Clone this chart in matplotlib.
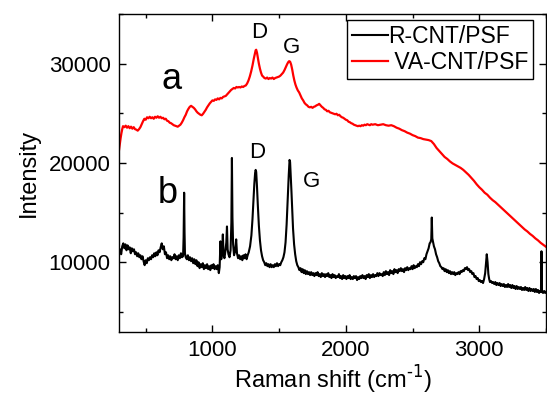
import matplotlib
matplotlib.use("Agg")
import matplotlib.pyplot as plt
import matplotlib.ticker as ticker

plt.rcParams['font.family'] = ['Liberation Sans', 'DejaVu Sans']

# Raman spectrum (b): R-CNT/PSF
shift_b = [300, 308, 316, 324, 332, 340, 348, 356, 364, 372, 380, 388, 396, 404, 412, 420,
           428, 436, 444, 452, 460, 468, 476, 484, 492, 500, 508, 516, 524, 532, 540, 548,
           556, 564, 572, 580, 588, 596, 604, 612, 620, 628, 636, 644, 652, 660, 668, 676,
           684, 692, 700, 708, 716, 724, 732, 740, 748, 756, 764, 772, 780, 784, 788, 791,
           794, 800, 808, 816, 824, 832, 840, 848, 856, 864, 872, 880, 888, 896, 904, 912,
           920, 928, 936, 944, 952, 960, 968, 976, 984, 992, 1000, 1008, 1016, 1024, 1032, 1040,
           1048, 1054, 1060, 1066, 1072, 1078, 1084, 1090, 1098, 1104, 1109, 1114, 1120, 1128, 1136, 1142,
           1146, 1150, 1155, 1162, 1170, 1178, 1184, 1192, 1200, 1208, 1216, 1224, 1232, 1240, 1248, 1256,
           1264, 1272, 1282, 1292, 1300, 1308, 1314, 1320, 1324, 1328, 1334, 1340, 1348, 1356, 1364, 1372,
           1380, 1388, 1396, 1404, 1412, 1420, 1428, 1436, 1444, 1452, 1460, 1468, 1476, 1484, 1492, 1500,
           1508, 1516, 1524, 1532, 1540, 1548, 1556, 1564, 1572, 1578, 1582, 1586, 1592, 1598, 1604, 1612,
           1620, 1628, 1636, 1644, 1652, 1660, 1668, 1676, 1684, 1692, 1700, 1708, 1716, 1724, 1732, 1740,
           1748, 1756, 1764, 1772, 1780, 1788, 1796, 1804, 1812, 1820, 1828, 1836, 1844, 1852, 1860, 1868,
           1876, 1884, 1892, 1900, 1908, 1916, 1924, 1932, 1940, 1948, 1956, 1964, 1972, 1980, 1988, 1996,
           2004, 2012, 2020, 2028, 2036, 2044, 2052, 2060, 2068, 2076, 2084, 2092, 2100, 2108, 2116, 2124,
           2132, 2140, 2148, 2156, 2164, 2172, 2180, 2188, 2196, 2204, 2212, 2220, 2228, 2236, 2244, 2252,
           2260, 2268, 2276, 2284, 2292, 2300, 2308, 2316, 2324, 2332, 2340, 2348, 2356, 2364, 2372, 2380,
           2388, 2396, 2404, 2412, 2420, 2428, 2436, 2444, 2452, 2460, 2468, 2476, 2484, 2492, 2500, 2508,
           2516, 2524, 2532, 2540, 2548, 2556, 2564, 2572, 2580, 2588, 2596, 2604, 2612, 2620, 2628, 2634,
           2640, 2644, 2648, 2654, 2660, 2668, 2676, 2684, 2692, 2700, 2708, 2716, 2724, 2732, 2740, 2748,
           2756, 2764, 2772, 2780, 2788, 2796, 2804, 2812, 2820, 2828, 2836, 2844, 2852, 2860, 2868, 2876,
           2884, 2892, 2900, 2908, 2916, 2924, 2932, 2940, 2948, 2956, 2964, 2972, 2980, 2988, 2996, 3004,
           3012, 3020, 3028, 3036, 3044, 3050, 3056, 3062, 3068, 3074, 3080, 3088, 3096, 3104, 3112, 3120,
           3128, 3136, 3144, 3152, 3160, 3168, 3176, 3184, 3192, 3200, 3208, 3216, 3224, 3232, 3240, 3248,
           3256, 3264, 3272, 3280, 3288, 3296, 3304, 3312, 3320, 3328, 3336, 3344, 3352, 3360, 3368, 3376,
           3384, 3392, 3400, 3408, 3416, 3424, 3432, 3440, 3448, 3456, 3462, 3466, 3470, 3478, 3486, 3494,
           3500]
inten_b = [10900, 11300, 10800, 11600, 11900, 11400, 11800, 11200, 11700, 11300, 11500, 10900, 11400, 11100, 11300, 10800,
           11000, 10600, 10900, 10500, 10700, 10300, 10600, 10100, 9700, 10200, 9900, 10400, 10200, 10500, 10300, 10700,
           10500, 10900, 10600, 11000, 10700, 11200, 11000, 11500, 11900, 11300, 11600, 10800, 11000, 10400, 10700, 10300,
           10600, 10200, 10500, 10400, 10800, 10300, 10600, 10200, 10700, 10400, 10900, 10500, 10600, 12500, 17000, 13000,
           10900, 10500, 10300, 10700, 10200, 10500, 10100, 10400, 9900, 10300, 9800, 10200, 9600, 10000, 9400, 9800,
           9500, 9900, 9300, 9700, 9400, 9800, 9300, 9600, 9200, 9700, 9400, 9800, 9300, 9600, 9300, 9700,
           8900, 9500, 12100, 10300, 10900, 12800, 10700, 10400, 11200, 12000, 13600, 11300, 10800, 10500, 11200, 14000,
           20500, 14500, 11800, 10700, 11100, 12300, 10900, 10400, 10700, 10300, 10600, 10200, 10700, 10400, 10800, 10300,
           10700, 11000, 11600, 12700, 14300, 16300, 17900, 19000, 19300, 19100, 17600, 15800, 13700, 12200, 11200, 10600,
           10200, 10000, 9700, 9900, 9600, 9800, 9500, 9800, 9500, 9700, 9500, 9800, 9600, 9900, 9600, 9800,
           9700, 10000, 10200, 10500, 11000, 12000, 13800, 16300, 18800, 20300, 20100, 19000, 17200, 15200, 13400, 11800,
           10800, 10100, 9700, 9500, 9200, 9400, 9000, 9300, 8900, 9200, 8800, 9100, 8800, 9000, 8700, 9000,
           8700, 8900, 8600, 8900, 8700, 9000, 8600, 8800, 8500, 8900, 8600, 8800, 8500, 8800, 8600, 8900,
           8500, 8700, 8400, 8800, 8500, 8700, 8400, 8600, 8500, 8800, 8400, 8600, 8300, 8700, 8400, 8600,
           8300, 8600, 8400, 8700, 8300, 8500, 8300, 8600, 8400, 8600, 8200, 8500, 8300, 8600, 8400, 8700,
           8400, 8600, 8300, 8700, 8500, 8800, 8400, 8700, 8500, 8800, 8500, 8700, 8600, 8900, 8600, 8900,
           8700, 8800, 8600, 9000, 8700, 9100, 8800, 9000, 8700, 9200, 8900, 9100, 8800, 9300, 9000, 9200,
           8900, 9300, 9100, 9400, 9100, 9300, 9000, 9400, 9200, 9500, 9200, 9400, 9300, 9600, 9300, 9700,
           9400, 9600, 9500, 9800, 9600, 10000, 9800, 10100, 10000, 10400, 10300, 10800, 11100, 11400, 11900, 12000,
           12300, 14500, 12400, 12000, 11600, 11300, 10800, 10500, 10100, 9900, 9600, 9500, 9300, 9400, 9100, 9300,
           9000, 9200, 8900, 9100, 8800, 9000, 8800, 9000, 8700, 8900, 8800, 9000, 8800, 9100, 9000, 9200,
           9100, 9400, 9300, 9500, 9200, 9300, 9000, 9100, 8800, 8900, 8500, 8600, 8300, 8400, 8100, 8200,
           8000, 8100, 7900, 8300, 8900, 9900, 10800, 10000, 8800, 8300, 8000, 8100, 7900, 8000, 7800, 8000,
           7700, 7900, 7700, 7900, 7600, 7800, 7600, 7800, 7500, 7700, 7500, 7800, 7500, 7700, 7400, 7700,
           7400, 7600, 7300, 7600, 7300, 7500, 7300, 7500, 7200, 7400, 7200, 7500, 7200, 7400, 7100, 7400,
           7100, 7300, 7100, 7300, 7000, 7300, 7000, 7200, 6900, 7100, 7000, 11100, 7000, 6900, 7100, 6900,
           7000]

# Raman spectrum (a): VA-CNT/PSF
shift_a = [300, 306, 312, 318, 324, 330, 340, 350, 360, 370, 380, 390, 400, 410, 420, 430,
           440, 450, 460, 470, 480, 490, 500, 510, 520, 530, 540, 550, 560, 570, 580, 590,
           600, 610, 620, 630, 640, 650, 660, 670, 680, 690, 700, 710, 720, 730, 740, 750,
           760, 770, 780, 790, 800, 810, 820, 830, 840, 850, 860, 870, 880, 890, 900, 910,
           920, 930, 940, 950, 960, 970, 980, 990, 1000, 1010, 1020, 1030, 1040, 1050, 1060, 1070,
           1080, 1090, 1100, 1110, 1120, 1130, 1140, 1150, 1160, 1170, 1180, 1190, 1200, 1210, 1220, 1230,
           1240, 1250, 1260, 1270, 1280, 1290, 1300, 1310, 1318, 1324, 1328, 1334, 1340, 1348, 1356, 1364,
           1372, 1380, 1390, 1400, 1410, 1420, 1430, 1440, 1450, 1460, 1470, 1480, 1490, 1500, 1510, 1520,
           1530, 1540, 1550, 1560, 1568, 1575, 1582, 1590, 1598, 1606, 1614, 1622, 1630, 1640, 1650, 1660,
           1670, 1680, 1690, 1700, 1710, 1720, 1730, 1740, 1750, 1760, 1770, 1780, 1790, 1800, 1810, 1820,
           1830, 1840, 1850, 1860, 1870, 1880, 1890, 1900, 1910, 1920, 1930, 1940, 1950, 1960, 1970, 1980,
           1990, 2000, 2010, 2020, 2030, 2040, 2050, 2060, 2070, 2080, 2090, 2100, 2110, 2120, 2130, 2140,
           2150, 2160, 2170, 2180, 2190, 2200, 2220, 2240, 2260, 2280, 2300, 2320, 2340, 2360, 2380, 2400,
           2420, 2440, 2460, 2480, 2500, 2520, 2540, 2560, 2580, 2600, 2620, 2640, 2660, 2680, 2700, 2720,
           2740, 2760, 2780, 2800, 2820, 2840, 2860, 2880, 2900, 2920, 2940, 2960, 2980, 3000, 3020, 3040,
           3060, 3080, 3100, 3120, 3140, 3160, 3180, 3200, 3220, 3240, 3260, 3280, 3300, 3320, 3340, 3360,
           3380, 3400, 3420, 3440, 3460, 3480, 3500]
inten_a = [21300, 21900, 22500, 23000, 23400, 23700, 23600, 23750, 23550, 23700, 23500, 23650, 23450, 23600, 23400, 23350,
           23250, 23400, 23600, 23900, 24200, 24450, 24350, 24600, 24500, 24650, 24500, 24600, 24450, 24650, 24550, 24700,
           24550, 24650, 24500, 24550, 24400, 24450, 24250, 24200, 24050, 24000, 23900, 23800, 23750, 23700, 23650, 23750,
           23850, 24050, 24300, 24600, 24850, 25200, 25450, 25650, 25750, 25650, 25550, 25400, 25200, 25050, 24950, 24850,
           24800, 24950, 25150, 25350, 25600, 25800, 26000, 26150, 26300, 26250, 26400, 26350, 26500, 26400, 26550, 26500,
           26650, 26700, 26750, 26900, 27050, 27200, 27350, 27450, 27550, 27500, 27650, 27600, 27650, 27600, 27700, 27650,
           27750, 27800, 28000, 28300, 28700, 29200, 29800, 30500, 31000, 31350, 31400, 31100, 30600, 30000, 29500, 29100,
           28800, 28700, 28550, 28500, 28600, 28450, 28550, 28500, 28600, 28450, 28550, 28600, 28650, 28700, 28800, 28950,
           29100, 29350, 29650, 29950, 30150, 30250, 30200, 29900, 29400, 28800, 28300, 27900, 27600, 27300, 27100, 26800,
           26500, 26300, 26050, 25900, 25800, 25650, 25600, 25650, 25550, 25650, 25700, 25800, 25850, 25950, 25800, 25650,
           25550, 25400, 25350, 25200, 25250, 25100, 25050, 25000, 24950, 24900, 24950, 24800, 24850, 24700, 24600, 24550,
           24450, 24350, 24300, 24150, 24100, 24000, 23950, 23850, 23800, 23750, 23700, 23750, 23700, 23800, 23750, 23850,
           23800, 23900, 23850, 23800, 23900, 23850, 23900, 23800, 23850, 23900, 23800, 23750, 23800, 23700, 23550, 23450,
           23300, 23200, 23050, 22950, 22800, 22700, 22550, 22500, 22400, 22350, 22300, 22200, 21900, 21500, 21200, 20900,
           20600, 20400, 20150, 19950, 19800, 19650, 19500, 19300, 19050, 18800, 18500, 18200, 17850, 17550, 17300, 17000,
           16800, 16500, 16250, 16050, 15800, 15550, 15300, 15050, 14800, 14550, 14300, 14050, 13800, 13550, 13300, 13100,
           12850, 12650, 12400, 12200, 11950, 11750, 11550]

x_ticks = [1000, 2000, 3000]
y_ticks = [10000, 20000, 30000]


def ve_pho():
    fig = plt.figure(figsize=(5.47, 3.98), dpi=100)
    ax = fig.add_axes([0.2176, 0.1666, 0.7806, 0.7982])

    ax.plot(shift_b, inten_b, color="black", linewidth=1.5, label="R-CNT/PSF")
    ax.plot(shift_a, inten_a, color="red", linewidth=1.6, label=" VA-CNT/PSF")

    # chu thich cac dinh
    ax.text(1352, 33100, "D", fontsize=16, ha="center", va="center")
    ax.text(1591, 31600, "G", fontsize=16, ha="center", va="center")
    ax.text(1338, 21000, "D", fontsize=16, ha="center", va="center")
    ax.text(1741, 18150, "G", fontsize=16, ha="center", va="center")
    ax.text(696, 28450, "a", fontsize=26, ha="center", va="center")
    ax.text(667, 16940, "b", fontsize=26, ha="center", va="center")

    ax.set_xlim(300, 3500)
    ax.set_ylim(3000, 35000)
    ax.set_xticks(x_ticks)
    ax.set_yticks(y_ticks)
    ax.xaxis.set_minor_locator(ticker.MultipleLocator(500))
    ax.yaxis.set_minor_locator(ticker.MultipleLocator(5000))
    ax.tick_params(which="both", direction="in", top=True, right=True, width=1.0)
    ax.tick_params(which="major", length=5, labelsize=16, pad=6)
    ax.tick_params(which="minor", length=3)
    for sp in ax.spines.values():
        sp.set_linewidth(1.0)

    ax.set_xlabel(r"Raman shift (cm$^{\text{-1}}$)", fontsize=17, labelpad=2)
    ax.set_ylabel("Intensity", fontsize=17, labelpad=6)

    leg = ax.legend(loc="upper right", bbox_to_anchor=(0.970, 0.981), borderaxespad=0,
                    fontsize=16.5, frameon=True, fancybox=False, framealpha=1,
                    edgecolor="black", handlelength=1.6, handletextpad=0.0,
                    labelspacing=0.15, borderpad=0.2)
    leg.get_frame().set_linewidth(1.0)

    fig.savefig("out.png", dpi=100)


if __name__ == "__main__":
    ve_pho()
